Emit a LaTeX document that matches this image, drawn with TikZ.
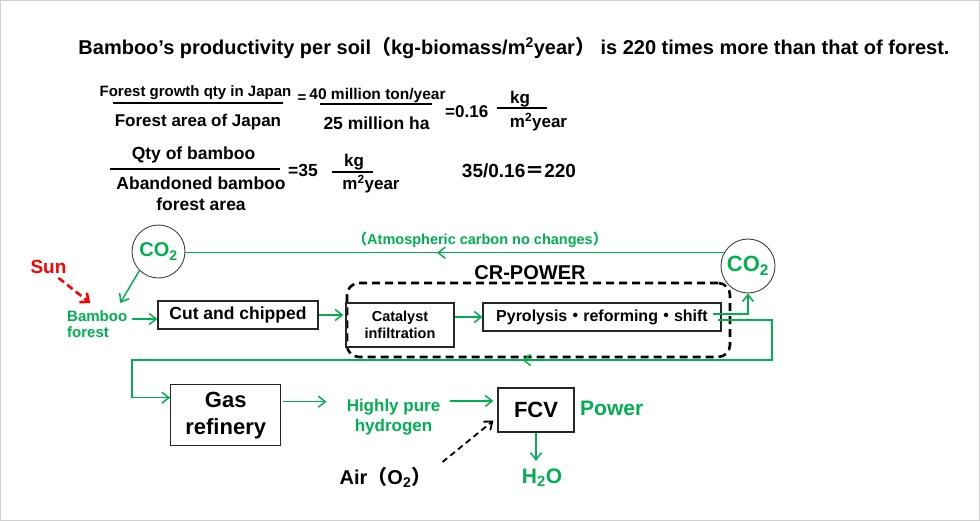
\documentclass[tikz,border=0pt]{standalone}
\usepackage{fontspec}
\setmainfont{Liberation Sans}
\newfontfamily\cjk{Noto Sans CJK JP}
\usetikzlibrary{arrows.meta,decorations.markings,calc}
\definecolor{gr}{HTML}{00B050}
\definecolor{rd}{HTML}{FF0000}
\begin{document}
\begin{tikzpicture}[x=1pt,y=-1pt,
  fs/.style 2 args={font=\bfseries\fontsize{#1}{#2}\selectfont},
  lbl/.style={inner sep=0pt},
  box/.style={draw=black!85, line width=1.2pt, inner sep=0pt},
  gtxt/.style={text=gr},
  bar/.style={line width=1.2pt},
  tip/.style={-{Straight Barb[length=7pt,width=11pt]}},
  gline/.style={draw=gr, line width=1.5pt},
  garrow/.style={gline, tip},
  midarrow/.style={postaction={decorate}, decoration={markings, mark=at position #1 with {\arrow{Straight Barb[length=7pt,width=11pt]}}}},
]
\fill[white] (0,0) rectangle (980,521);
\useasboundingbox (0,0) rectangle (980,521);
\draw[black!18, line width=1pt] (0.5,0.5) rectangle (979.5,520.5);

% title
\node[lbl, fs={20}{22}, anchor=base] (title) at (514,55) {Bamboo’s productivity per soil{\cjk （}kg-biomass/m\textsuperscript{2}year{\cjk ）} is 220 times more than that of forest.};

% equation row 1
\node[lbl, fs={15}{18}, anchor=base] (e1n) at (195.5,97) {Forest growth qty in Japan};
\draw[bar] (113,103) -- (283,103);
\node[lbl, fs={17}{20}, anchor=base] (e1d) at (198,127) {Forest area of Japan};
\node[lbl, fs={15}{18}] (e1eq) at (302,99) {=};
\node[lbl, fs={15.5}{18}, anchor=base] (e2n) at (377.5,100) {40 million ton/year};
\draw[bar] (320,104) -- (432,104);
\node[lbl, fs={17.5}{20}, anchor=base] (e2d) at (376.5,130) {25 million ha};
\node[lbl, fs={17}{20}, anchor=base west] (e3) at (445,118) {=0.16};
\node[lbl, fs={17}{20}, anchor=base] (e3n) at (520,104) {kg};
\draw[bar] (497,108) -- (547,108);
\node[lbl, fs={17}{20}, anchor=base] (e3d) at (538.5,128) {m\textsuperscript{2}year};

% equation row 2
\node[lbl, fs={17.5}{20}, anchor=base] (e4n) at (193.5,160) {Qty of bamboo};
\draw[bar] (110,169) -- (280,169);
\node[lbl, fs={17.5}{20}, anchor=base] (e4d1) at (201,190) {Abandoned bamboo};
\node[lbl, fs={17.5}{20}, anchor=base] (e4d2) at (201,211) {forest area};
\node[lbl, fs={17.5}{20}, anchor=base west] (e5) at (288,177) {=35};
\node[lbl, fs={17}{20}, anchor=base] (e5n) at (354,167) {kg};
\draw[bar] (332,172) -- (373,172);
\node[lbl, fs={17}{20}, anchor=base] (e5d) at (371,190) {m\textsuperscript{2}year};
\node[lbl, fs={19}{22}, anchor=base] (e6) at (519,178) {35/0.16{\cjk ＝}220};

% diagram nodes
\node[circle, draw=black!75, line width=0.9pt, minimum size=53pt, inner sep=0pt, fs={20}{22}, gtxt] (co2l) at (158.5,251.5) {CO\textsubscript{2}};
\node[circle, draw=black!75, line width=0.9pt, minimum size=54pt, inner sep=0pt, fs={22}{24}, gtxt] (co2r) at (748,266) {CO\textsubscript{2}};
\node[lbl, fs={14.5}{17}, gtxt] (atm) at (480,240) {{\cjk （}Atmospheric carbon no changes{\cjk ）}};
\node[lbl, fs={19}{21}, text=rd] (sun) at (48.5,267) {Sun};
\node[lbl, fs={15}{16}, gtxt, align=left, anchor=north west] (bam) at (67,310) {Bamboo\\forest};
\node[box, fs={17.5}{20}, minimum width=160pt, minimum height=28pt] (cut) at (238,315) {Cut and chipped};
\node[draw=black, line width=2.6pt, dash pattern=on 8pt off 5pt, rounded corners=12pt, minimum width=383pt, minimum height=74pt, inner sep=0pt] (crbox) at (538.5,320) {};
\node[lbl, fs={20}{22}] (crlbl) at (530,273) {CR-POWER};
\node[box, fs={14.5}{17.5}, align=center, minimum width=108pt, minimum height=44pt] (cat) at (400,325) {Catalyst\\infiltration};
\node[box, fs={16}{18}, minimum width=238pt, minimum height=28pt] (pyro) at (602,317) {Pyrolysis{\cjk ・}reforming{\cjk ・}shift};
\node[box, fs={22}{27}, align=center, minimum width=110pt, minimum height=61pt] (gas) at (225.7,415.3) {Gas\\refinery};
\node[lbl, fs={17}{20}, gtxt, align=center] (high) at (393.5,416.7) {Highly pure\\hydrogen};
\node[box, fs={22}{24}, minimum width=76pt, minimum height=44pt] (fcv) at (536,410) {FCV};
\node[lbl, fs={21}{23}, gtxt, anchor=west] (power) at (580,408) {Power};
\node[lbl, fs={21}{23}, gtxt] (h2o) at (542,478) {H\textsubscript{2}O};
\node[lbl, fs={20}{22}] (air) at (385.5,477) {Air{\cjk （}O\textsubscript{2}{\cjk ）}};

\coordinate (ret1) at (772,360);
\coordinate (ret2) at (132,360);

% connectors
\draw[gline, midarrow=287pt] (co2r.151) -- (co2r.151 -| co2l.east);
\draw[rd, line width=2.6pt, dash pattern=on 7pt off 4pt, -{Straight Barb[length=7pt,width=12pt]}] ($(sun.south)+(10,4)$) -- ($(bam.north)+(-7,-7)$);
\draw[garrow] (co2l.225) -- ($(bam.north)+(23,-7)$);
\draw[garrow] ($(bam.north east)+(5,9)$) -- ($(cut.west)+(0,4)$);
\draw[garrow, shorten >=2pt] (cut.east) -- (cut.east -| cat.west);
\draw[garrow] (cat.east |- pyro.west) -- (pyro.west);
\draw[garrow] ($(pyro.east)+(-9,-3)$) -| (co2r.south);
\draw[garrow, midarrow=344pt] ($(pyro.east)+(-4,3)$) -| (ret1) -- (ret2) |- ($(gas.west)+(0,-17.6)$);
\draw[garrow] ($(gas.east)+(2,-13.6)$) -- ($(high.west)+(-20,-15)$);
\draw[garrow] ($(high.east)+(10,-15.7)$) -- ($(fcv.west)+(-4,-9)$);
\draw[garrow, shorten >=8pt] (fcv.south) -- (fcv.south |- h2o.north);
\draw[black, line width=1.8pt, dash pattern=on 6pt off 4pt, tip] ($(air.east)+(11,-15)$) -- ($(fcv.south west)+(-4,-12)$);
\end{tikzpicture}
\end{document}
